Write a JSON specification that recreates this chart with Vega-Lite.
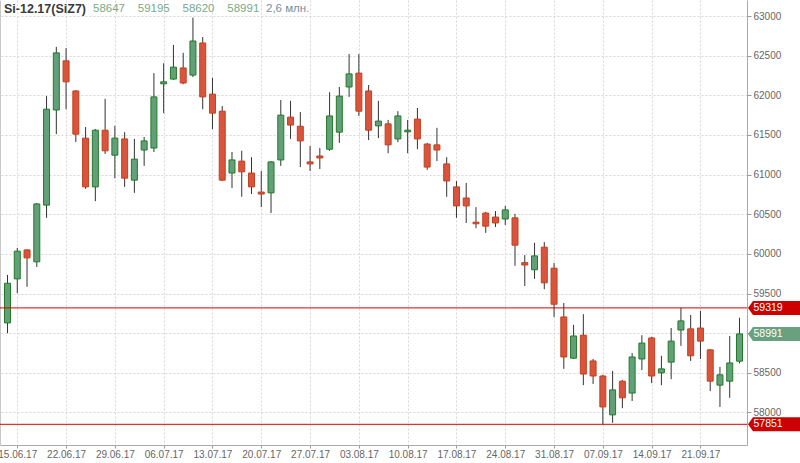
{
  "$schema": "https://vega.github.io/schema/vega-lite/v6.json",
  "width": 747,
  "height": 445,
  "autosize": {"type": "none"},
  "padding": {"left": 0, "top": 0, "right": 53, "bottom": 18},
  "background": "white",
  "config": {
    "view": {"stroke": null},
    "font": "Liberation Sans",
    "axis": {"labelFont": "Liberation Sans"}
  },
  "resolve": {"axis": {"y": "independent"}},
  "datasets": {
    "candles": [
      {"d": "14.06.17", "o": 59130, "h": 59735, "l": 59000, "c": 59630},
      {"d": "15.06.17", "o": 59685, "h": 60075, "l": 59505, "c": 60035},
      {"d": "16.06.17", "o": 60050, "h": 60060, "l": 59585, "c": 59950},
      {"d": "19.06.17", "o": 59900, "h": 60640, "l": 59835, "c": 60630},
      {"d": "20.06.17", "o": 60615, "h": 61990, "l": 60455, "c": 61825},
      {"d": "21.06.17", "o": 61815, "h": 62610, "l": 61510, "c": 62535},
      {"d": "22.06.17", "o": 62435, "h": 62595, "l": 61825, "c": 62170},
      {"d": "23.06.17", "o": 62055, "h": 62065, "l": 61410, "c": 61510},
      {"d": "26.06.17", "o": 61460, "h": 61600, "l": 60820, "c": 60845},
      {"d": "27.06.17", "o": 60845, "h": 61575, "l": 60665, "c": 61560},
      {"d": "28.06.17", "o": 61560, "h": 61955, "l": 61260, "c": 61300},
      {"d": "29.06.17", "o": 61245, "h": 61615, "l": 60955, "c": 61460},
      {"d": "30.06.17", "o": 61450, "h": 61535, "l": 60845, "c": 60955},
      {"d": "03.07.17", "o": 60930, "h": 61450, "l": 60770, "c": 61195},
      {"d": "04.07.17", "o": 61310, "h": 61475, "l": 61110, "c": 61425},
      {"d": "05.07.17", "o": 61335, "h": 62280, "l": 61285, "c": 61980},
      {"d": "06.07.17", "o": 62145, "h": 62405, "l": 61775, "c": 62170},
      {"d": "07.07.17", "o": 62205, "h": 62635, "l": 62195, "c": 62355},
      {"d": "10.07.17", "o": 62345, "h": 62535, "l": 62140, "c": 62155},
      {"d": "11.07.17", "o": 62255, "h": 62980, "l": 62230, "c": 62685},
      {"d": "12.07.17", "o": 62660, "h": 62735, "l": 61825, "c": 61980},
      {"d": "13.07.17", "o": 62015, "h": 62220, "l": 61575, "c": 61775},
      {"d": "14.07.17", "o": 61800, "h": 61865, "l": 60920, "c": 60930},
      {"d": "17.07.17", "o": 61020, "h": 61285, "l": 60830, "c": 61185},
      {"d": "18.07.17", "o": 61170, "h": 61300, "l": 60720, "c": 61035},
      {"d": "19.07.17", "o": 61020, "h": 61220, "l": 60755, "c": 60845},
      {"d": "20.07.17", "o": 60780, "h": 61045, "l": 60590, "c": 60755},
      {"d": "21.07.17", "o": 60770, "h": 61170, "l": 60515, "c": 61160},
      {"d": "24.07.17", "o": 61185, "h": 61940, "l": 61110, "c": 61750},
      {"d": "25.07.17", "o": 61725, "h": 61930, "l": 61450, "c": 61625},
      {"d": "26.07.17", "o": 61610, "h": 61790, "l": 61095, "c": 61425},
      {"d": "27.07.17", "o": 61160, "h": 61360, "l": 61045, "c": 61135},
      {"d": "28.07.17", "o": 61235, "h": 61335, "l": 61070, "c": 61210},
      {"d": "31.07.17", "o": 61320, "h": 62040, "l": 61300, "c": 61740},
      {"d": "01.08.17", "o": 61535, "h": 62105, "l": 61400, "c": 61990},
      {"d": "02.08.17", "o": 62105, "h": 62520, "l": 61980, "c": 62270},
      {"d": "03.08.17", "o": 62280, "h": 62520, "l": 61740, "c": 61800},
      {"d": "04.08.17", "o": 62055, "h": 62130, "l": 61435, "c": 61560},
      {"d": "07.08.17", "o": 61615, "h": 61930, "l": 61460, "c": 61675},
      {"d": "08.08.17", "o": 61640, "h": 61690, "l": 61270, "c": 61375},
      {"d": "09.08.17", "o": 61450, "h": 61800, "l": 61410, "c": 61740},
      {"d": "10.08.17", "o": 61540, "h": 61690, "l": 61270, "c": 61560},
      {"d": "11.08.17", "o": 61700, "h": 61840, "l": 61320, "c": 61450},
      {"d": "14.08.17", "o": 61385, "h": 61400, "l": 61060, "c": 61095},
      {"d": "15.08.17", "o": 61375, "h": 61590, "l": 61170, "c": 61310},
      {"d": "16.08.17", "o": 61135, "h": 61220, "l": 60720, "c": 60920},
      {"d": "17.08.17", "o": 60845, "h": 60920, "l": 60455, "c": 60605},
      {"d": "18.08.17", "o": 60705, "h": 60895, "l": 60390, "c": 60605},
      {"d": "21.08.17", "o": 60400, "h": 60590, "l": 60325, "c": 60380},
      {"d": "22.08.17", "o": 60515, "h": 60530, "l": 60265, "c": 60350},
      {"d": "23.08.17", "o": 60465, "h": 60540, "l": 60340, "c": 60390},
      {"d": "24.08.17", "o": 60440, "h": 60605, "l": 60365, "c": 60555},
      {"d": "25.08.17", "o": 60455, "h": 60505, "l": 59850, "c": 60110},
      {"d": "28.08.17", "o": 59890, "h": 59985, "l": 59595, "c": 59860},
      {"d": "29.08.17", "o": 59800, "h": 60140, "l": 59685, "c": 59975},
      {"d": "30.08.17", "o": 60085, "h": 60150, "l": 59555, "c": 59635},
      {"d": "31.08.17", "o": 59820, "h": 59885, "l": 59205, "c": 59365},
      {"d": "01.09.17", "o": 59205, "h": 59380, "l": 58550, "c": 58700},
      {"d": "04.09.17", "o": 58685, "h": 59105, "l": 58675, "c": 58965},
      {"d": "05.09.17", "o": 58975, "h": 59240, "l": 58345, "c": 58485},
      {"d": "06.09.17", "o": 58650, "h": 58675, "l": 58360, "c": 58460},
      {"d": "07.09.17", "o": 58460, "h": 58475, "l": 57851, "c": 58070},
      {"d": "08.09.17", "o": 57970, "h": 58525, "l": 57870, "c": 58285},
      {"d": "11.09.17", "o": 58395, "h": 58410, "l": 58055, "c": 58185},
      {"d": "12.09.17", "o": 58245, "h": 58750, "l": 58145, "c": 58700},
      {"d": "13.09.17", "o": 58675, "h": 58975, "l": 58535, "c": 58875},
      {"d": "14.09.17", "o": 58940, "h": 58955, "l": 58370, "c": 58460},
      {"d": "15.09.17", "o": 58500, "h": 58715, "l": 58345, "c": 58550},
      {"d": "18.09.17", "o": 58635, "h": 59065, "l": 58420, "c": 58900},
      {"d": "19.09.17", "o": 59040, "h": 59319, "l": 58840, "c": 59155},
      {"d": "20.09.17", "o": 59055, "h": 59230, "l": 58650, "c": 58715},
      {"d": "21.09.17", "o": 59065, "h": 59280, "l": 58675, "c": 58900},
      {"d": "22.09.17", "o": 58790, "h": 58800, "l": 58270, "c": 58395},
      {"d": "25.09.17", "o": 58345, "h": 58575, "l": 58070, "c": 58475},
      {"d": "26.09.17", "o": 58395, "h": 58965, "l": 58185, "c": 58625},
      {"d": "27.09.17", "o": 58647, "h": 59195, "l": 58620, "c": 58991}
    ],
    "levels": [
      {"v": 59319, "kind": "level"},
      {"v": 57851, "kind": "level"}
    ],
    "flags": [
      {"v": 59319, "kind": "level", "t": "59319"},
      {"v": 58991, "kind": "last", "t": "58991"},
      {"v": 57851, "kind": "level", "t": "57851"}
    ],
    "header": [
      {"part": "name", "t": "Si-12.17(SiZ7)"},
      {"part": "ohlc", "t": "58647\u00a0\u00a0\u00a0\u00a059195\u00a0\u00a0\u00a0\u00a058620\u00a0\u00a0\u00a0\u00a058991"},
      {"part": "vol", "t": "2,6 млн."}
    ]
  },
  "layer": [
    {
      "data": {"name": "candles"},
      "mark": {"type": "rule", "color": "#333333", "strokeWidth": 1},
      "encoding": {
        "x": {
          "field": "d",
          "type": "ordinal",
          "sort": null,
          "scale": {
            "type": "point",
            "padding": 0.77,
            "domain": ["14.06.17","15.06.17","16.06.17","19.06.17","20.06.17","21.06.17","22.06.17","23.06.17","26.06.17","27.06.17","28.06.17","29.06.17","30.06.17","03.07.17","04.07.17","05.07.17","06.07.17","07.07.17","10.07.17","11.07.17","12.07.17","13.07.17","14.07.17","17.07.17","18.07.17","19.07.17","20.07.17","21.07.17","24.07.17","25.07.17","26.07.17","27.07.17","28.07.17","31.07.17","01.08.17","02.08.17","03.08.17","04.08.17","07.08.17","08.08.17","09.08.17","10.08.17","11.08.17","14.08.17","15.08.17","16.08.17","17.08.17","18.08.17","21.08.17","22.08.17","23.08.17","24.08.17","25.08.17","28.08.17","29.08.17","30.08.17","31.08.17","01.09.17","04.09.17","05.09.17","06.09.17","07.09.17","08.09.17","11.09.17","12.09.17","13.09.17","14.09.17","15.09.17","18.09.17","19.09.17","20.09.17","21.09.17","22.09.17","25.09.17","26.09.17","27.09.17"]
          },
          "axis": {
            "title": null,
            "orient": "bottom",
            "values": ["15.06.17","22.06.17","29.06.17","06.07.17","13.07.17","20.07.17","27.07.17","03.08.17","10.08.17","17.08.17","24.08.17","31.08.17","07.09.17","14.09.17","21.09.17"],
            "labelAngle": 0,
            "labelOverlap": false,
            "labelFontSize": 10,
            "labelColor": "#666666",
            "labelPadding": 1,
            "tickSize": 3,
            "tickColor": "#999999",
            "domainColor": "#aaaaaa",
            "grid": true,
            "gridColor": "#d6d6d6",
            "gridDash": [2, 2]
          }
        },
        "y": {
          "field": "l",
          "type": "quantitative",
          "scale": {"domain": [57590, 63202], "nice": false, "zero": false},
          "axis": {
            "title": null,
            "orient": "right",
            "format": "d",
            "values": [58000, 58500, 59000, 59500, 60000, 60500, 61000, 61500, 62000, 62500, 63000],
            "labelFontSize": 10,
            "labelColor": "#666666",
            "labelPadding": 2,
            "tickSize": 4,
            "tickColor": "#999999",
            "domainColor": "#aaaaaa",
            "grid": true,
            "gridColor": "#d6d6d6",
            "gridDash": [2, 2]
          }
        },
        "y2": {"field": "h"}
      }
    },
    {
      "data": {"name": "candles"},
      "mark": {"type": "bar", "size": 6, "strokeWidth": 1},
      "encoding": {
        "x": {"field": "d", "type": "ordinal", "sort": null},
        "y": {"field": "o", "type": "quantitative", "axis": null},
        "y2": {"field": "c"},
        "fill": {"condition": {"test": "datum.c >= datum.o", "value": "#63a07a"}, "value": "#d9543c"},
        "stroke": {"condition": {"test": "datum.c >= datum.o", "value": "#217a27"}, "value": "#c2401e"}
      }
    },
    {
      "data": {"name": "levels"},
      "mark": {"type": "rule", "color": "#d40000", "strokeWidth": 1},
      "encoding": {
        "y": {
          "field": "v",
          "type": "quantitative",
          "axis": {"orient": "left", "title": null, "labels": false, "ticks": false, "grid": false, "domainColor": "#c8c8c8"}
        }
      }
    },
    {
      "data": {"name": "flags"},
      "mark": {
        "type": "point",
        "shape": "M0.133,0L0.211,-0.109L0.95,-0.109L0.95,0.109L0.211,0.109Z",
        "size": 16384,
        "filled": true,
        "opacity": 1,
        "strokeWidth": 0
      },
      "encoding": {
        "x": {"datum": "27.09.17"},
        "y": {"field": "v", "type": "quantitative", "axis": null},
        "color": {"condition": {"test": "datum.kind === 'last'", "value": "#68a080"}, "value": "#cc0000"}
      }
    },
    {
      "data": {"name": "flags"},
      "mark": {"type": "text", "align": "left", "baseline": "middle", "dx": 14, "fontSize": 10.5, "color": "white"},
      "encoding": {
        "x": {"datum": "27.09.17"},
        "y": {"field": "v", "type": "quantitative", "axis": null},
        "text": {"field": "t"}
      }
    },
    {
      "data": {"name": "header"},
      "transform": [{"filter": "datum.part === 'name'"}],
      "mark": {"type": "text", "align": "left", "baseline": "middle", "dx": -3.5, "fontSize": 12.5, "fontWeight": "bold", "color": "#3a3a3a"},
      "encoding": {
        "x": {"datum": "14.06.17"},
        "y": {"datum": 63088, "type": "quantitative", "axis": null},
        "text": {"field": "t"}
      }
    },
    {
      "data": {"name": "header"},
      "transform": [{"filter": "datum.part === 'ohlc'"}],
      "mark": {"type": "text", "align": "left", "baseline": "middle", "dx": 85.5, "fontSize": 11.5, "color": "#78aa88"},
      "encoding": {
        "x": {"datum": "14.06.17"},
        "y": {"datum": 63088, "type": "quantitative", "axis": null},
        "text": {"field": "t"}
      }
    },
    {
      "data": {"name": "header"},
      "transform": [{"filter": "datum.part === 'vol'"}],
      "mark": {"type": "text", "align": "left", "baseline": "middle", "dx": 258.5, "fontSize": 11.5, "color": "#7a8c9c"},
      "encoding": {
        "x": {"datum": "14.06.17"},
        "y": {"datum": 63088, "type": "quantitative", "axis": null},
        "text": {"field": "t"}
      }
    }
  ]
}
